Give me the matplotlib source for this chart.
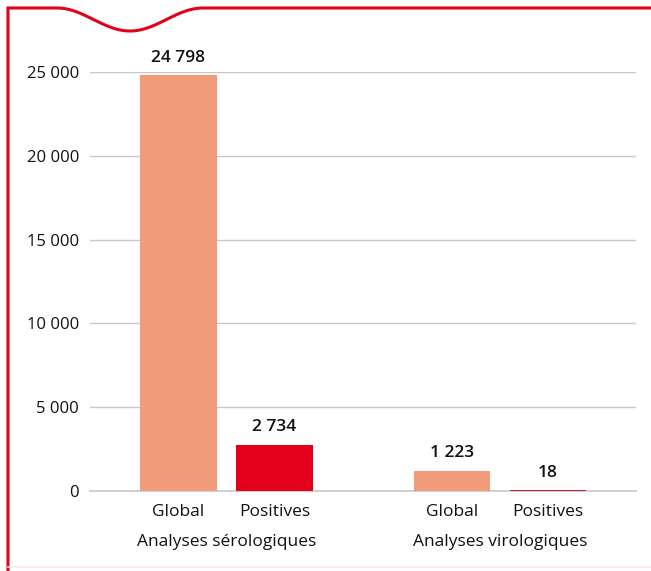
import numpy as np
import matplotlib.pyplot as plt
from matplotlib.transforms import blended_transform_factory

plt.rcParams['font.family'] = ['Open Sans', 'DejaVu Sans']

categories = ['Global', 'Positives', 'Global', 'Positives']
groups = ['Analyses sérologiques', 'Analyses virologiques']
values = [24798, 2734, 1223, 18]
positions = [0, 1, 2.85, 3.85]
yticks = [0, 5000, 10000, 15000, 20000, 25000]

salmon = '#F29B7A'
red = '#E2001A'
colors = [salmon, red, salmon, red]
ink = '#111111'

def fmt(v):
    return f"{v:,}".replace(",", " ")

W, H = 651, 571
fig = plt.figure(figsize=(W/100, H/100), dpi=100)

# frame with the wave notch, drawn in pixel coordinates
bg = fig.add_axes([0, 0, 1, 1])
bg.set_xlim(0, W)
bg.set_ylim(H, 0)
bg.axis('off')
xw = np.linspace(57, 203, 100)
yw = 8 + 11.5*(1 - np.cos(2*np.pi*(xw - 57)/146))
xs = np.concatenate([[8, 8], xw, [W + 5]])
ys = np.concatenate([[H + 5, 8], yw, [8]])
bg.plot(xs, ys, color=red, lw=2.2, solid_joinstyle='miter')
bg.plot([8, W], [567, 567], color='#fde6ea', lw=1.2)

ax = fig.add_axes([90/W, 1 - 491/H, (636 - 90)/W, (491 - 72)/H])
ax.set_xlim(-0.92, 4.766)
ax.set_ylim(0, 25000)

bars = ax.bar(positions, values, width=0.8, color=colors, zorder=3)
bars[3].set_edgecolor('#c00018')
bars[3].set_linewidth(1.2)
ax.axhline(0, color='#c8c8c8', lw=1.2, zorder=2, clip_on=False)

for x, v in zip(positions, values):
    ax.annotate(fmt(v), (x, v), xytext=(0, 7), textcoords='offset points',
                ha='center', va='bottom', fontsize=12.5, fontweight='semibold',
                color=ink, annotation_clip=False)

ax.set_yticks(yticks)
ax.set_yticklabels([fmt(t) for t in yticks])
ax.set_xticks(positions)
ax.set_xticklabels(categories)
ax.tick_params(axis='both', length=0, colors=ink)
ax.tick_params(axis='y', pad=8, labelsize=12)
ax.tick_params(axis='x', pad=9, labelsize=12.5)
ax.grid(axis='y', color='#c8c8c8', lw=1, zorder=0)
for s in ax.spines.values():
    s.set_visible(False)

trans = blended_transform_factory(ax.transData, fig.transFigure)
ax.text(0.5, 1 - 542/H, groups[0], transform=trans, ha='center', va='center',
        fontsize=12.5, color=ink)
ax.text(3.35, 1 - 542/H, groups[1], transform=trans, ha='center', va='center',
        fontsize=12.5, color=ink)

fig.savefig('out.png', dpi=100)
